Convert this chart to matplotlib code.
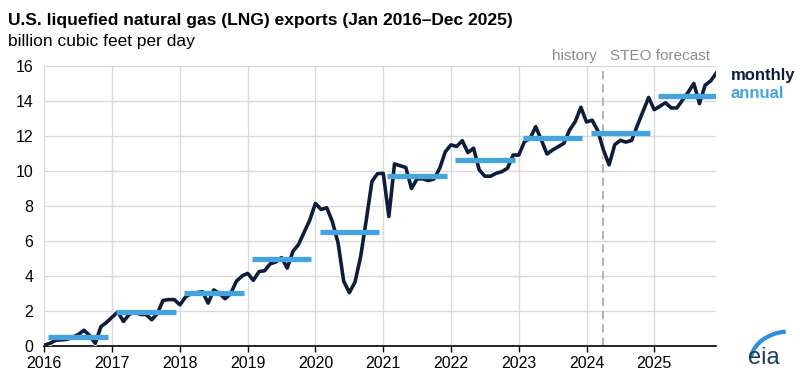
import numpy as np
import matplotlib.pyplot as plt
import matplotlib.patheffects as pe
from matplotlib.patches import Arc

plt.rcParams['font.family'] = ['Liberation Sans', 'DejaVu Sans']

# monthly LNG exports, billion cubic feet per day (Jan 2016 - Dec 2025)
m2016 = [0.05, 0.15, 0.33, 0.35, 0.38, 0.5, 0.65, 0.9, 0.6, 0.15, 1.1, 1.35]
m2017 = [1.65, 1.95, 1.4, 1.8, 1.95, 1.8, 1.8, 1.5, 1.85, 2.6, 2.65, 2.65]
m2018 = [2.35, 2.8, 3.0, 3.05, 3.1, 2.45, 3.2, 3.0, 2.7, 3.0, 3.7, 4.0]
m2019 = [4.15, 3.75, 4.25, 4.3, 4.7, 4.8, 5.05, 4.45, 5.4, 5.8, 6.5, 7.2]
m2020 = [8.15, 7.8, 7.9, 7.1, 5.9, 3.7, 3.05, 3.65, 5.1, 7.2, 9.4, 9.85]
m2021 = [9.87, 7.4, 10.4, 10.3, 10.2, 9.0, 9.55, 9.55, 9.45, 9.55, 10.15, 11.1]
m2022 = [11.49, 11.4, 11.73, 11.05, 11.3, 10.06, 9.7, 9.7, 9.87, 9.96, 10.15, 10.91]
m2023 = [10.91, 11.67, 11.86, 12.53, 11.77, 10.97, 11.2, 11.39, 11.58, 12.34, 12.82, 13.64]
m2024 = [12.8, 12.9, 12.3, 11.2, 10.35, 11.5, 11.75, 11.65, 11.75, 12.6, 13.4, 14.2]
m2025 = [13.5, 13.7, 13.9, 13.6, 13.6, 14.05, 14.5, 15.0, 13.85, 14.9, 15.15, 15.6]
monthly = m2016 + m2017 + m2018 + m2019 + m2020 + m2021 + m2022 + m2023 + m2024 + m2025

years = list(range(2016, 2026))
annual = [0.52, 1.94, 3.0, 4.98, 6.52, 9.72, 10.6, 11.9, 12.18, 14.28]
forecast_start = 2024.25

navy = '#0e1d3c'
blue = '#45a3de'

fig = plt.figure(figsize=(8, 3.81), dpi=100)
ax = fig.add_axes([0.0555, 0.0919, 0.84, 0.735])

t = 2016 + np.arange(len(monthly)) / 12
ax.plot(t, monthly, color=navy, lw=2.6, solid_joinstyle='round', zorder=3,
        path_effects=[pe.Stroke(linewidth=3.9, foreground='white'), pe.Normal()])

for y, v in zip(years, annual):
    ax.plot([y + 0.06, y + 0.94], [v, v], color=blue, lw=3.8,
            solid_capstyle='butt', zorder=4)

ax.axvline(forecast_start, color='#a6a6a6', lw=1.2, ls=(0, (5, 3)), zorder=2)

ax.set_xlim(2016, 2025 + 11 / 12)
ax.set_ylim(0, 16)
ax.set_xticks(years)
ax.set_xticklabels([str(y) for y in years], fontsize=11.5)
ax.set_yticks(range(0, 17, 2))
ax.tick_params(axis='y', length=0, pad=8, labelsize=11.5)
ax.tick_params(axis='x', length=4, width=1, color='black', pad=3)
ax.grid(True, color='#d9d9d9', lw=1)
ax.set_axisbelow(True)
for s in ['top', 'right', 'left']:
    ax.spines[s].set_visible(False)
ax.spines['bottom'].set_color('black')
ax.spines['bottom'].set_linewidth(1.2)

fig.text(0.01, 0.935, 'U.S. liquefied natural gas (LNG) exports (Jan 2016\u2013Dec 2025)',
         fontsize=12.5, fontweight='bold', va='baseline')
fig.text(0.01, 0.88, 'billion cubic feet per day', fontsize=12.5, va='baseline')

ax.text(forecast_start - 0.1, 16.15, 'history', color='#8c8c8c', fontsize=11,
        ha='right', va='bottom')
ax.text(forecast_start + 0.1, 16.15, 'STEO forecast', color='#8c8c8c', fontsize=11,
        ha='left', va='bottom')

fig.text(0.913, 0.802, 'monthly', color=navy, fontsize=12, fontweight='bold', va='center')
fig.text(0.913, 0.755, 'annual', color=blue, fontsize=12, fontweight='bold', va='center')

# eia logo
fig.text(0.955, 0.06, 'eia', color='#1f3a5f', fontsize=17, ha='center', va='center')
logo = fig.add_axes([0.925, 0.06, 0.065, 0.1])
logo.set_xlim(0, 1)
logo.set_ylim(0, 1)
logo.axis('off')
logo.add_patch(Arc((0.95, -0.1), 1.5, 1.6, theta1=95, theta2=175, color='#2d8fd5', lw=3))

fig.savefig('out.png', dpi=100)
